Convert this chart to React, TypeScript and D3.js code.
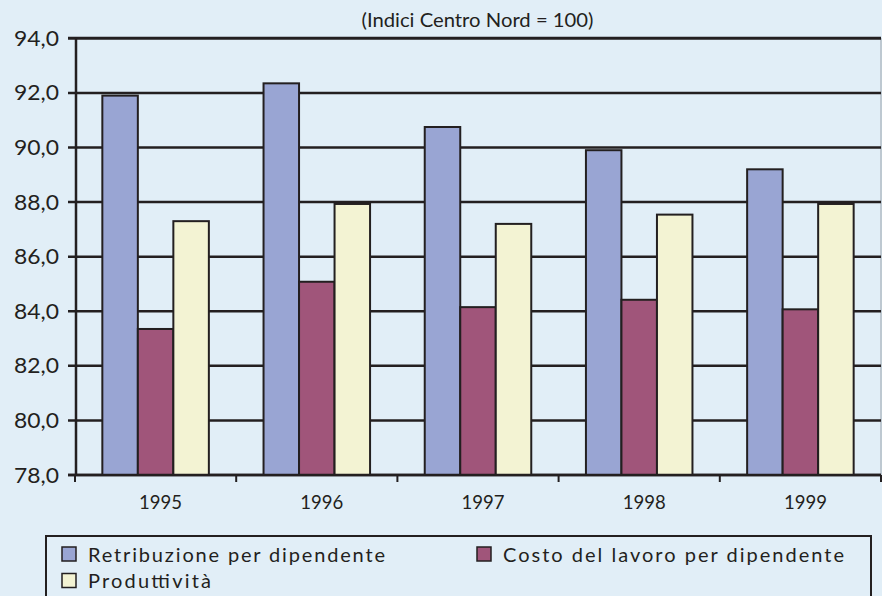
import React from "react";
import * as d3 from "d3";

const years = ["1995", "1996", "1997", "1998", "1999"];
const seriesNames = [
  "Retribuzione per dipendente",
  "Costo del lavoro per dipendente",
  "Produttività",
];
const retribuzione = [91.9, 92.35, 90.75, 89.9, 89.2];
const costoLavoro = [83.35, 85.08, 84.15, 84.42, 84.07];
const produttivita = [87.3, 87.93, 87.2, 87.54, 87.93];
const yTicks = [78, 80, 82, 84, 86, 88, 90, 92, 94];
const title = "(Indici Centro Nord = 100)";

const colors = ["#99a5d3", "#a0557a", "#f3f3d3"];
const ink = "#231f20";
const bg = "#e1eef7";
const font = "Lato, 'Open Sans', sans-serif";

export default function App() {
  const W = 882;
  const H = 596;
  const left = 76;
  const right = 881;
  const top = 38.3;
  const bottom = 475;

  const x0 = d3.scaleBand<string>().domain(years).range([left - 1, right]).padding(0);
  const x1 = d3
    .scaleBand<number>()
    .domain([0, 1, 2])
    .range([0, x0.bandwidth()])
    .paddingInner(0)
    .paddingOuter(0.77);
  const y = d3.scaleLinear().domain([78, 94]).range([bottom, top]);
  const data = [retribuzione, costoLavoro, produttivita];
  const fmt = (v: number) => v.toFixed(1).replace(".", ",");

  const legendItems = [
    { i: 0, x: 62, y: 547, tl: 297 },
    { i: 1, x: 477, y: 547, tl: 341 },
    { i: 2, x: 62, y: 573.5, tl: 123 },
  ];

  return (
    <svg width={W} height={H} style={{ position: "absolute", left: 0, top: 0, display: "block" }}>
      <rect x={0} y={0} width={W} height={H} fill={bg} />
      <text
        x={477.5}
        y={27}
        textAnchor="middle"
        fontFamily={font}
        fontSize={20}
        fill={ink}
        textLength={232}
        lengthAdjust="spacingAndGlyphs"
      >
        {title}
      </text>
      {/* right border */}
      <line x1={right} x2={right} y1={top} y2={bottom} stroke="#9aa3ab" strokeWidth={1} />
      {/* gridlines */}
      {yTicks.map((t) => (
        <line
          key={"g" + t}
          x1={left - 8}
          x2={right}
          y1={y(t)}
          y2={y(t)}
          stroke={ink}
          strokeWidth={t === 94 ? 3 : 2.5}
        />
      ))}
      {/* bars */}
      {years.map((yr, gi) => (
        <g key={yr} transform={`translate(${x0(yr)},0)`}>
          {data.map((s, si) => (
            <rect
              key={si}
              x={x1(si)}
              y={y(s[gi])}
              width={x1.bandwidth()}
              height={bottom - y(s[gi])}
              fill={colors[si]}
              stroke={ink}
              strokeWidth={2}
            />
          ))}
        </g>
      ))}
      {/* axes */}
      <line x1={left} x2={left} y1={top - 1} y2={bottom + 1} stroke={ink} strokeWidth={2.5} />
      <line x1={left - 8} x2={right} y1={bottom} y2={bottom} stroke={ink} strokeWidth={2.5} />
      {years.map((yr) => (
        <line
          key={"t" + yr}
          x1={x0(yr)!}
          x2={x0(yr)!}
          y1={bottom}
          y2={bottom + 7}
          stroke={ink}
          strokeWidth={2}
        />
      ))}
      <line x1={right} x2={right} y1={bottom} y2={bottom + 7} stroke={ink} strokeWidth={2} />
      {yTicks.map((t) => (
        <text
          key={"l" + t}
          x={59}
          y={y(t)}
          dy="0.36em"
          textAnchor="end"
          fontFamily={font}
          fontSize={21}
          fill={ink}
          textLength={45}
          lengthAdjust="spacingAndGlyphs"
        >
          {fmt(t)}
        </text>
      ))}
      {years.map((yr) => (
        <text
          key={"x" + yr}
          x={x0(yr)! + x0.bandwidth() / 2 + 5}
          y={509}
          textAnchor="middle"
          fontFamily={font}
          fontSize={20}
          fill={ink}
          textLength={43}
          lengthAdjust="spacingAndGlyphs"
        >
          {yr}
        </text>
      ))}
      {/* legend */}
      <rect x={46} y={536} width={825} height={80} fill="none" stroke={ink} strokeWidth={2} />
      {legendItems.map((it) => (
        <g key={"lg" + it.i}>
          <rect
            x={it.x}
            y={it.y}
            width={14}
            height={14}
            fill={colors[it.i]}
            stroke={ink}
            strokeWidth={1.5}
          />
          <text
            x={it.x + 26}
            y={it.y + 14.5}
            fontFamily={font}
            fontSize={20}
            fill={ink}
            textLength={it.tl}
            lengthAdjust="spacing"
          >
            {seriesNames[it.i]}
          </text>
        </g>
      ))}
    </svg>
  );
}
